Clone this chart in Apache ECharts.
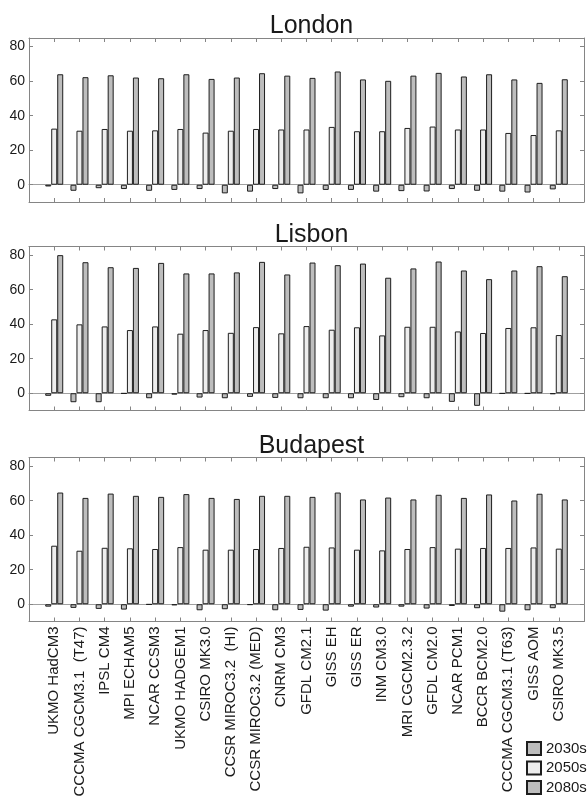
<!DOCTYPE html>
<html>
<head>
<meta charset="utf-8">
<script src="https://cdn.jsdelivr.net/npm/echarts@6/dist/echarts.min.js"></script>
<style>
  html, body { margin: 0; padding: 0; background: #fff; }
  #chart { width: 588px; height: 797px; }
</style>
</head>
<body>
<div id="chart"></div>
<script>
// Climate models (x categories)
const models = [
  'UKMO HadCM3', 'CCCMA CGCM3.1  (T47)', 'IPSL CM4', 'MPI ECHAM5', 'NCAR CCSM3',
  'UKMO HADGEM1', 'CSIRO MK3.0', 'CCSR MIROC3.2  (HI)', 'CCSR MIROC3.2 (MED)', 'CNRM CM3',
  'GFDL CM2.1', 'GISS EH', 'GISS ER', 'INM CM3.0', 'MRI CGCM2.3.2',
  'GFDL CM2.0', 'NCAR PCM1', 'BCCR BCM2.0', 'CCCMA CGCM3.1 (T63)', 'GISS AOM', 'CSIRO MK3.5'
];
const cities = ['London', 'Lisbon', 'Budapest'];
const periods = ['2030s', '2050s', '2080s'];
const yTicks = [0, 20, 40, 60, 80];

// London
const london2030s = [-1, -3.5, -2, -2.5, -3.5, -3, -2.5, -5, -4, -2.5, -5, -3, -3, -4, -3.7, -3.9, -2.5, -3.5, -4, -4.5, -2.7];
const london2050s = [32.5, 31.3, 32.3, 31.3, 31.5, 32.3, 30.2, 31.3, 32.3, 32, 32, 33.5, 31, 31, 32.9, 33.7, 32, 32, 30, 28.8, 31.5];
const london2080s = [64, 62.3, 63.4, 62.1, 61.7, 64, 61.3, 62.1, 64.6, 63.2, 61.9, 65.6, 61, 60.2, 63.2, 64.8, 62.7, 64, 61, 59, 61.1];

// Lisbon
const lisbon2030s = [-1.5, -5.2, -5.2, -0.2, -2.9, -0.8, -2.5, -2.9, -2.1, -2.7, -2.9, -2.9, -2.9, -3.9, -2.3, -2.9, -5, -7.3, -0.2, -0.2, -0.5];
const lisbon2050s = [42.8, 39.9, 38.7, 36.6, 38.7, 34.5, 36.6, 35, 38.3, 34.7, 38.9, 36.8, 38.2, 33.5, 38.5, 38.5, 35.8, 34.9, 37.8, 38.2, 33.7];
const lisbon2080s = [80, 75.9, 73, 72.6, 75.5, 69.4, 69.4, 70, 76.1, 68.8, 75.7, 74.2, 75.1, 66.9, 72.3, 76.3, 71.1, 66.1, 71.1, 73.6, 67.8];

// Budapest
const budapest2030s = [-1.4, -2.1, -2.7, -3.1, -0.2, -0.6, -3.5, -2.9, -0.4, -3.5, -3.3, -3.7, -1.4, -1.9, -1.4, -2.5, -1, -2.3, -4.3, -3.5, -2.3];
const budapest2050s = [33.9, 31, 32.7, 32.4, 32, 33.1, 31.6, 31.6, 32, 32.6, 33.3, 32.9, 31.6, 31.2, 32, 33.1, 32.2, 32.6, 32.6, 32.9, 32.2];
const budapest2080s = [64.7, 61.6, 64.1, 62.8, 62.2, 63.8, 61.6, 61, 62.8, 62.8, 62.2, 64.7, 60.7, 61.8, 60.7, 63.4, 61.6, 63.6, 60.1, 64, 60.7];

const cityData = [
  [london2030s, london2050s, london2080s],
  [lisbon2030s, lisbon2050s, lisbon2080s],
  [budapest2030s, budapest2050s, budapest2080s]
];

const FONT = "'Liberation Sans', Arial, Helvetica, sans-serif";
const AXIS_COLOR = '#858585';
const TEXT_COLOR = '#1a1a1a';
const periodColors = ['#bdbdbd', '#ededed', '#bdbdbd'];

const gridTops = [38, 246.5, 457.5];
const titleTops = [9, 217.5, 428.5];
const modelPositions = models.map((_, i) => i + 1);

const grids = [], xAxes = [], yAxes = [], series = [], titles = [];

cities.forEach((city, c) => {
  grids.push({ left: 29, width: 555, top: gridTops[c], height: 164, outerBoundsMode: 'none', containLabel: false });
  titles.push({
    text: city, left: 306.5, top: titleTops[c], textAlign: 'center',
    textStyle: { fontFamily: FONT, fontSize: 25, fontWeight: 'normal', color: TEXT_COLOR }
  });

  const isLast = c === cities.length - 1;
  const xBase = {
    type: 'value', gridIndex: c, min: 0, max: 22,
    splitLine: { show: false },
    axisLine: { show: true, onZero: false, lineStyle: { color: AXIS_COLOR, width: 1 } },
    axisTick: { show: true, inside: true, length: 4, customValues: modelPositions, lineStyle: { color: AXIS_COLOR } }
  };
  const xIndex = xAxes.length;
  // bottom axis with model names
  xAxes.push(Object.assign({}, xBase, {
    position: 'bottom',
    axisLabel: {
      show: isLast, customValues: modelPositions, rotate: 90, margin: 5,
      fontFamily: FONT, fontSize: 15, color: TEXT_COLOR,
      formatter: v => models[Math.round(v) - 1] || ''
    }
  }));
  // top frame axis
  xAxes.push(Object.assign({}, xBase, { position: 'top', axisLabel: { show: false } }));
  // zero reference line
  xAxes.push({
    type: 'value', gridIndex: c, min: 0, max: 22, position: 'bottom',
    axisLine: { show: true, onZero: true, lineStyle: { color: '#a0a0a0', width: 1 } },
    axisTick: { show: false }, axisLabel: { show: false }, splitLine: { show: false }
  });

  const yBase = {
    type: 'value', gridIndex: c, min: -10, max: 85,
    splitLine: { show: false },
    axisLine: { show: true, onZero: false, lineStyle: { color: AXIS_COLOR, width: 1 } },
    axisTick: { show: true, inside: true, length: 4, customValues: yTicks, lineStyle: { color: AXIS_COLOR } }
  };
  const yIndex = yAxes.length;
  yAxes.push(Object.assign({}, yBase, {
    position: 'left',
    axisLabel: { show: true, customValues: yTicks, margin: 4, fontFamily: FONT, fontSize: 14, color: TEXT_COLOR }
  }));
  yAxes.push(Object.assign({}, yBase, { position: 'right', axisLabel: { show: false } }));

  periods.forEach((p, k) => {
    series.push({
      name: p, type: 'bar', xAxisIndex: xIndex, yAxisIndex: yIndex,
      barWidth: 6, barGap: '0%',
      itemStyle: { color: periodColors[k], borderColor: '#1e1e1e', borderWidth: 1 },
      emphasis: { disabled: true },
      data: cityData[c][k].map((v, i) => [i + 1, v])
    });
  });
});

const chart = echarts.init(document.getElementById('chart'), null, { renderer: 'canvas' });
chart.setOption({
  animation: false,
  backgroundColor: '#ffffff',
  title: titles,
  grid: grids,
  xAxis: xAxes,
  yAxis: yAxes,
  legend: {
    data: periods, orient: 'vertical', left: 526, top: 741, height: 150, width: 80,
    itemWidth: 14, itemHeight: 13, itemGap: 4.5, padding: 0,
    icon: 'rect',
    textStyle: { fontFamily: FONT, fontSize: 15, lineHeight: 13, color: TEXT_COLOR }
  },
  series: series
});
</script>
</body>
</html>
